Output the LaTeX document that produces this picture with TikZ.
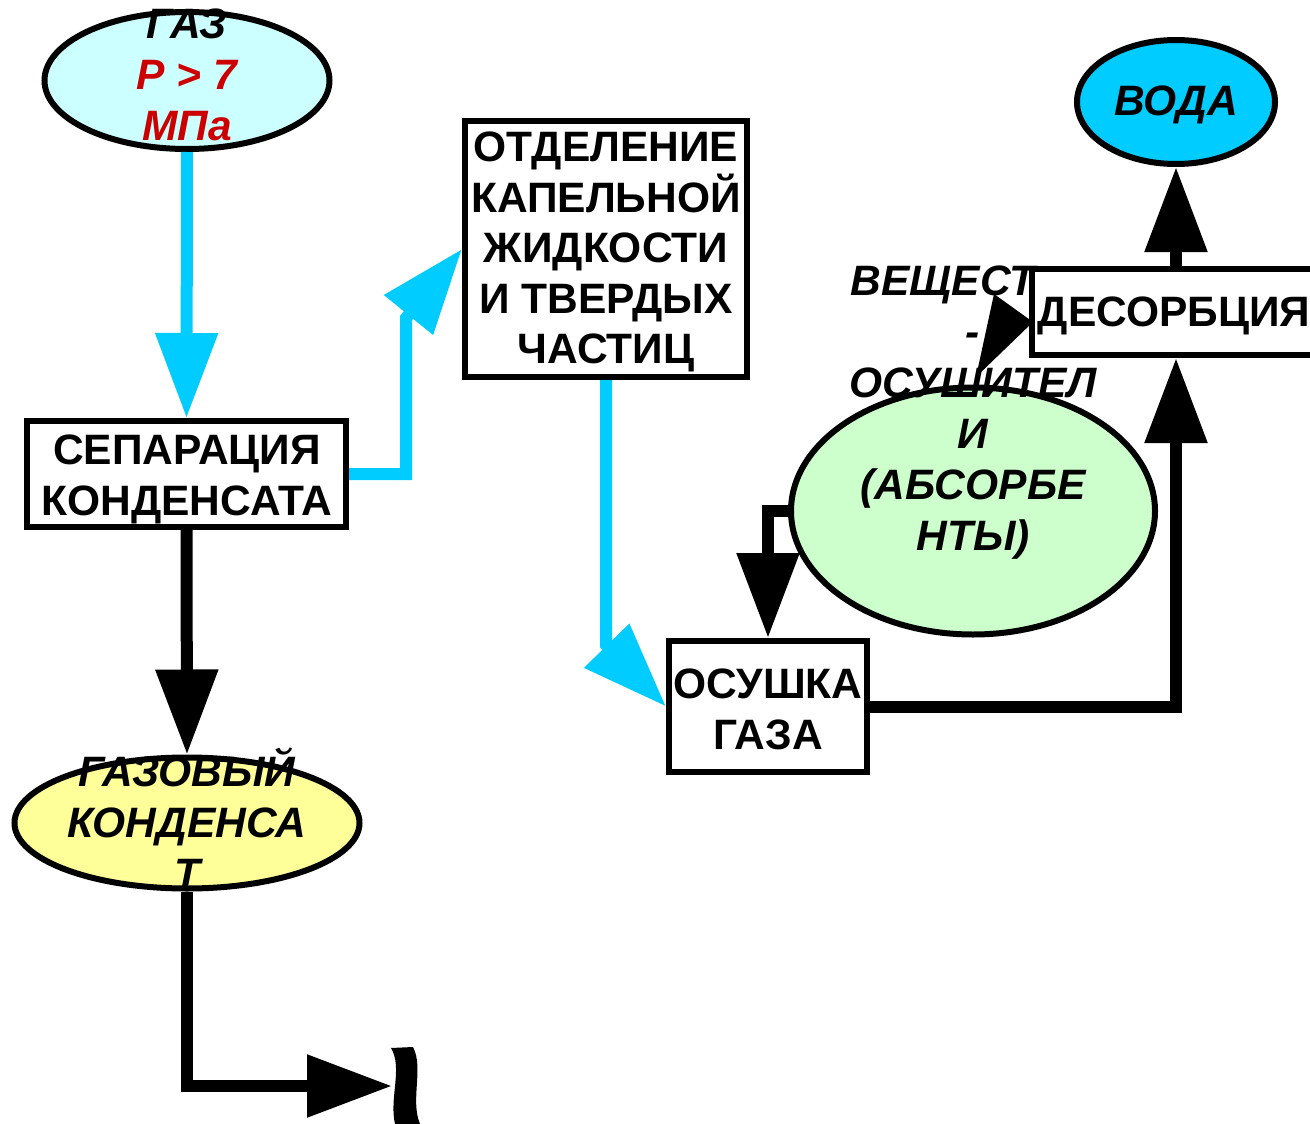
\documentclass[tikz,border=0pt]{standalone}
\usepackage{fontspec}
\setmainfont{Liberation Sans}
\usetikzlibrary{shapes.geometric,arrows.meta}
\definecolor{cyanA}{HTML}{00CCFF}
\definecolor{gasfill}{HTML}{CCFFFF}
\definecolor{greenfill}{HTML}{CCFFCC}
\definecolor{yellowfill}{HTML}{FFFF99}
\definecolor{redT}{HTML}{CC0000}
\begin{document}
\begin{tikzpicture}[x=1pt,y=-1pt,
  box/.style={draw,line width=6pt,fill=white,rectangle,inner sep=0pt},
  oval/.style={draw,line width=6pt,ellipse,inner sep=0pt},
  txt/.style={font=\fontsize{42.5}{51}\selectfont\bfseries,align=center,inner sep=0pt},
  itxt/.style={txt,font=\fontsize{42.5}{51}\selectfont\bfseries\itshape},
  barrow/.style={line width=12pt,draw=black,-{Triangle[length=85pt,width=60pt]}},
  carrow/.style={line width=12pt,draw=cyanA,-{Triangle[length=85pt,width=60pt]}}]
\useasboundingbox (0,0) rectangle (1310,1124);
% shapes
\node[oval,fill=gasfill,minimum width=285pt,minimum height=137pt] (gas) at (187,80.5) {};
\node[box,minimum width=319pt,minimum height=106pt] (sep) at (186.5,474) {};
\node[box,minimum width=282pt,minimum height=256pt] (otd) at (606,249) {};
\node[box,minimum width=198pt,minimum height=131pt] (osu) at (768,706.5) {};
\node[box,minimum width=288pt,minimum height=86pt] (des) at (1176,312) {};
\node[oval,fill=cyanA,minimum width=198pt,minimum height=124pt] (voda) at (1176,102) {};
\node[oval,fill=greenfill,minimum width=364pt,minimum height=247pt] (abs) at (973,511) {};
\node[oval,fill=yellowfill,minimum width=345pt,minimum height=131pt] (kond) at (187,823) {};
% coordinates
\coordinate (k1) at (406,474);
\coordinate (k2) at (406,318);
\coordinate (k3) at (606,645);
\coordinate (k4) at (187,1086);
\coordinate (brk) at (392,1086);
\coordinate (dtip) at (1033,322);
% connectors
\draw[carrow] (gas.south) -- (sep.north);
\draw[carrow] (sep.east) -- (k1) -- (k2) -- (otd.west);
\draw[carrow] (otd.south) -- (k3) -- (osu.west);
\draw[barrow] (sep.south) -- (kond.north);
\draw[barrow] (kond.south) -- (k4) -- (brk);
\draw[barrow] (osu.east) -| (des.south);
\draw[barrow] (des.north) -- (voda.south);
\draw[barrow] (abs.west) -| (osu.north);
% texts
\node[itxt] (tgas) at (187,75) {ГАЗ\\\textcolor{redT}{Р > 7}\\\textcolor{redT}{МПа}};
\node[txt] (tsep) at (187,479) {СЕПАРАЦИЯ\\КОНДЕНСАТА};
\node[txt,font=\fontsize{42.5}{50.5}\selectfont\bfseries] (totd) at (606,252) {ОТДЕЛЕНИЕ\\КАПЕЛЬНОЙ\\ЖИДКОСТИ\\И ТВЕРДЫХ\\ЧАСТИЦ};
\node[txt] (tosu) at (768,709) {ОСУШКА\\ГАЗА};
\node[txt] (tdes) at (1174,316) {ДЕСОРБЦИЯ};
\node[itxt] (tvoda) at (1176,105) {ВОДА};
\node[itxt] (tabs) at (973,413) {ВЕЩЕСТ\phantom{ВА}\\-\\ОСУШИТЕЛ\\И\\(АБСОРБЕ\\НТЫ)};
\node[itxt] (tkond) at (187,818) {ГАЗОВЫЙ\\КОНДЕНСА\\Т};
% arrowhead into desorption
\fill (994,294) -- (dtip) -- (976,377) -- cycle;
% wavy mark
\fill (391,1048) .. controls (403,1068) and (389,1098) .. (395,1124) -- (420,1124) .. controls (410,1100) and (424,1068) .. (413,1047) -- cycle;
\end{tikzpicture}
\end{document}
